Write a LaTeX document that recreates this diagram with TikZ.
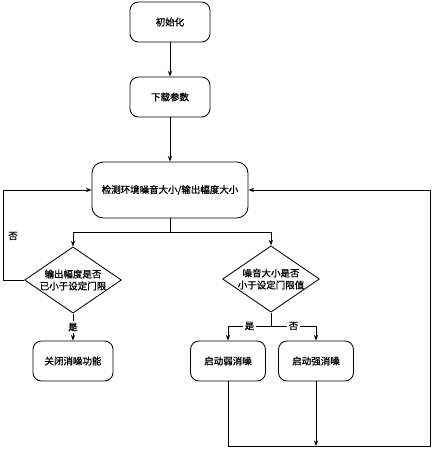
\documentclass[tikz,border=0pt]{standalone}
\usepackage{fontspec}
\newfontfamily\cjk[FakeBold=1.2]{Noto Sans CJK SC}
\usetikzlibrary{arrows.meta, positioning, shapes.geometric}

\begin{document}
\begin{tikzpicture}[x=0.025cm, y=-0.025cm, >={Stealth[length=4pt, width=3pt]}, line width=0.6pt,
		every node/.style={font=\cjk\fontsize{6.75}{8.5}\selectfont},
		procbox/.style={draw, rounded corners=6pt, minimum width=2cm, minimum height=1cm, align=center},
		testbox/.style={draw, diamond, aspect=1.46, inner sep=0pt, minimum width=2.375cm, minimum height=1.625cm, align=center},
		branchlab/.style={fill=white, inner sep=1pt}]
		
		\useasboundingbox (0,0) rectangle (434,450);
		
		% Blocchi del diagramma
		\node[procbox] (init) at (170,22) {初始化};
		\node[procbox] (load) at (170,97) {下载参数};
		\node[procbox, minimum width=3.9cm, minimum height=1.4cm, rounded corners=8pt] (detect) at (170,190) {检测环境噪音大小/输出幅度大小};
		\node[testbox] (ampq)   at (73,280)  {输出幅度是否\\已小于设定门限};
		\node[testbox] (noiseq) at (271,279) {噪音大小是否\\小于设定门限值};
		\node[procbox] (off) at (73,361) {关闭消噪功能};
		\node[procbox, minimum width=1.875cm] (weak)   at (228,361) {启动弱消噪};
		\node[procbox, minimum width=1.875cm] (strong) at (316,361) {启动强消噪};
		
		% Punti di diramazione
		\coordinate (split) at (170,232);
		\coordinate (fork)  at (271,326);
		\coordinate (loopL) at (3,280);
		\coordinate (merge) at (316,446);
		\coordinate (loopR) at (430,446);
		
		% Collegamenti
		\draw[->] (init) -- (load);
		\draw[->] (load) -- (detect);
		\draw (detect) -- (split);
		\draw[->] (split) -| (ampq.north);
		\draw[->] (split) -| (noiseq.north);
		
		% Ramo sinistro
		\draw[->] (ampq.west) -- (loopL) |- (detect.west);
		\node (nolab) at (13,236) {否};
		\draw[->] (ampq.south) -- node[branchlab] (yes1) {是} (off.north);
		
		% Ramo destro
		\draw (noiseq.south) -- (fork);
		\draw[->] (fork) -| node[pos=0.25, branchlab] (yes2) {是} (weak.north);
		\draw[->] (fork) -| node[pos=0.25, branchlab] (no2) {否} (strong.north);
		\draw[->] (strong.south) -- (merge);
		\draw[->] (weak.south) |- (loopR) |- (detect.east);
		
	\end{tikzpicture}
\end{document}
